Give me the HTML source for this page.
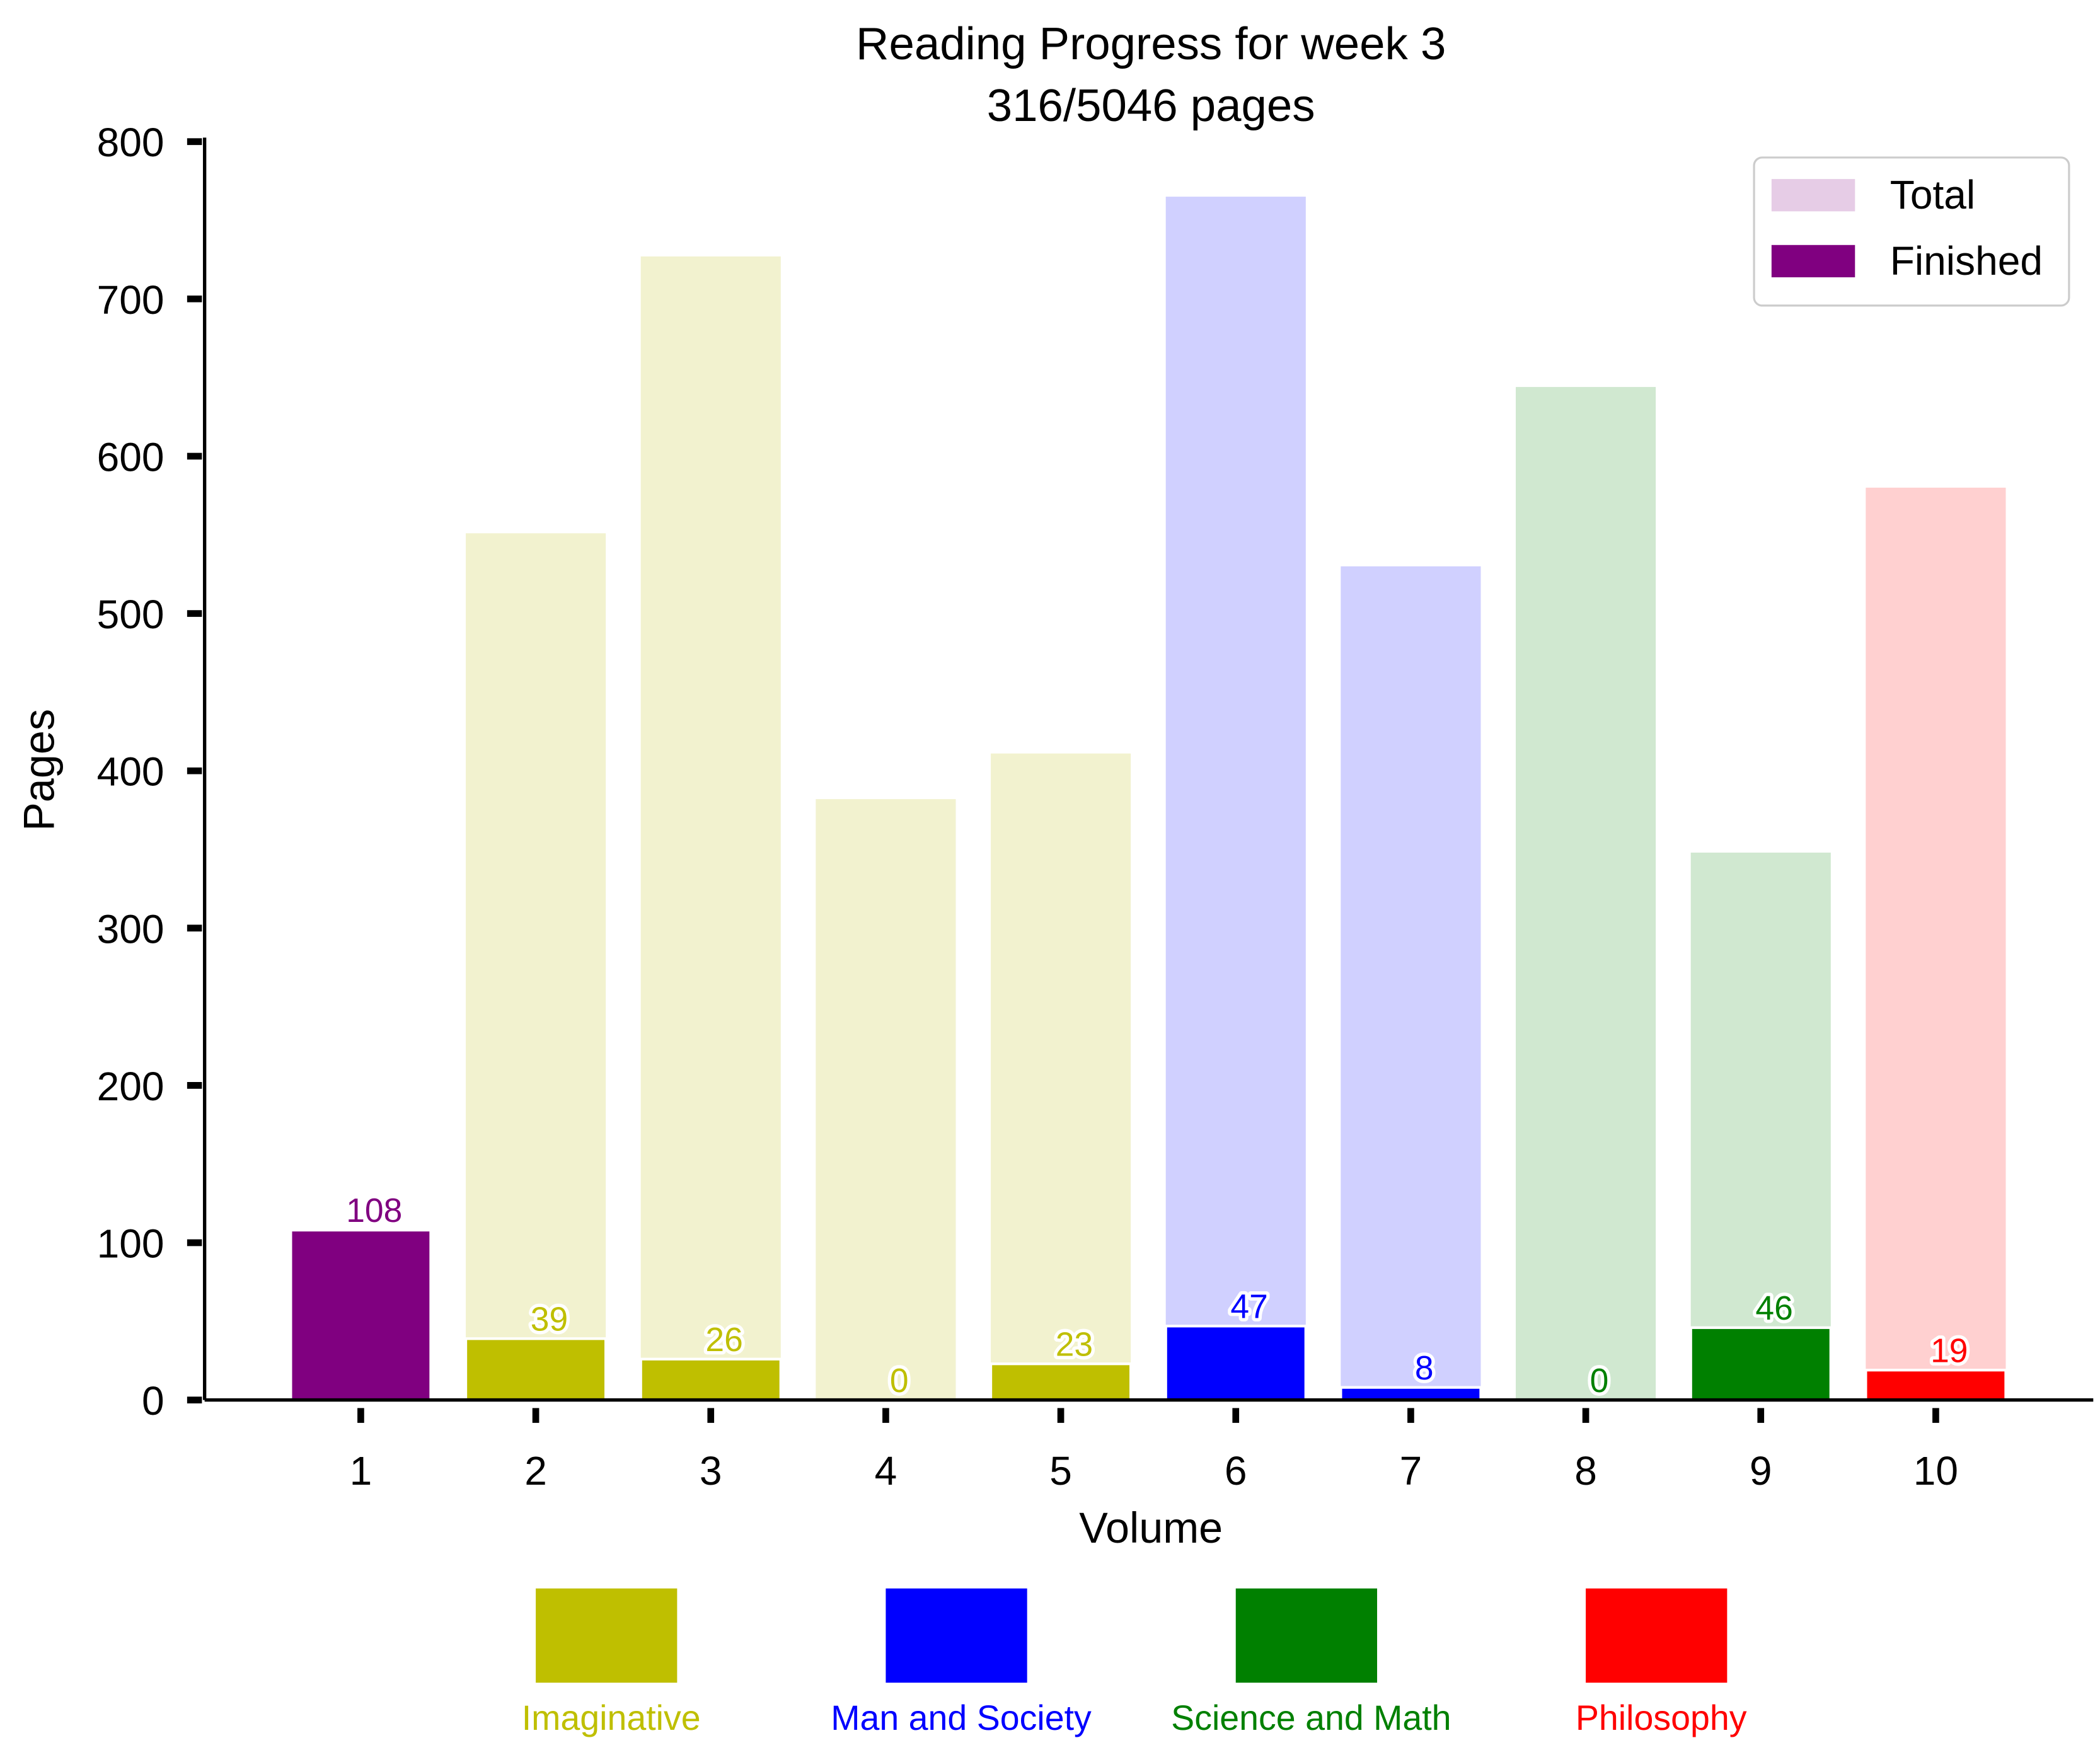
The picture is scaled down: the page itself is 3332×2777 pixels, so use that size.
<!DOCTYPE html>
<html><head><meta charset="utf-8"><style>
html,body{margin:0;padding:0;background:#fff}
svg{display:block}
text{font-family:"Liberation Sans","DejaVu Sans",sans-serif}
</style></head><body>
<svg id="chart" width="3332" height="2777" viewBox="0 0 1560 1300" preserveAspectRatio="none" xmlns="http://www.w3.org/2000/svg">
<text x="855" y="44" font-size="34" text-anchor="middle">Reading Progress for week 3</text>
<text x="855" y="90" font-size="34" text-anchor="middle">316/5046 pages</text>
<g id="bars"></g>
<g id="axes"></g>
<g>
<rect x="1303" y="117" width="234" height="110" rx="6" fill="#fff" stroke="#ccc" stroke-width="1.5"/>
<rect x="1316" y="133" width="62" height="24" fill="#e6cce6"/>
<text x="1404" y="155" font-size="30">Total</text>
<rect x="1316" y="182" width="62" height="24" fill="#800080"/>
<text x="1404" y="204" font-size="30">Finished</text>
</g>
<g id="catlegend"></g>
</svg>
<script>
const volumes=["1","2","3","4","5","6","7","8","9","10"];
const totalPages=[108,551,727,382,411,765,530,644,348,580];
const finishedPages=[108,39,26,0,23,47,8,0,46,19];
const genres=["Imaginative","Imaginative","Imaginative","Imaginative","Imaginative","Man and Society","Man and Society","Science and Math","Science and Math","Philosophy"];
const yTicks=[0,100,200,300,400,500,600,700,800];
const genreNames=["Imaginative","Man and Society","Science and Math","Philosophy"];
const genreColor={"Imaginative":"#bfbf00","Man and Society":"#0000ff","Science and Math":"#008000","Philosophy":"#ff0000"};
const genreLight={"Imaginative":"#f2f2cf","Man and Society":"#d0d0ff","Science and Math":"#d0e8d0","Philosophy":"#ffd0d0"};
const NS="http://www.w3.org/2000/svg";
const x0=152,x1=1555,y0=1040,pxPer=1.1685;
function yS(v){return y0-v*pxPer;}
function xS(i){return 268+i*130;}
const bw=104;
function mk(tag,attrs,parent){const e=document.createElementNS(NS,tag);for(const k in attrs)e.setAttribute(k,attrs[k]);parent.appendChild(e);return e;}
const bars=document.getElementById('bars');
volumes.forEach((v,i)=>{
  const g=genres[i];
  const lightCol=i===0?"#e6cce6":genreLight[g];
  const darkCol=i===0?"#800080":genreColor[g];
  const t=mk('rect',{x:xS(i)-bw/2,y:yS(totalPages[i]),width:bw,height:totalPages[i]*pxPer,fill:lightCol},bars);
  
  
  const f=mk('rect',{x:xS(i)-bw/2,y:yS(finishedPages[i]),width:bw,height:Math.max(finishedPages[i]*pxPer,0),fill:darkCol,stroke:'#fff','stroke-width':2},bars);
  
  
  const lab=mk('text',{x:xS(i)+10,y:yS(finishedPages[i])-6,'font-size':25,'text-anchor':'middle',fill:darkCol,stroke:'#fff','stroke-width':5,'paint-order':'stroke','stroke-linejoin':'round'},bars);
  lab.textContent=String(finishedPages[i]);
  
  
});
const axes=document.getElementById('axes');
const ya=mk('line',{x1:x0,y1:yS(800)-3,x2:x0,y2:y0,stroke:'#000','stroke-width':2.5},axes);


const xa=mk('line',{x1:x0,y1:y0,x2:x1,y2:y0,stroke:'#000','stroke-width':2.5},axes);


yTicks.forEach(t=>{
  const tk=mk('line',{x1:x0-13,y1:yS(t),x2:x0-2,y2:yS(t),stroke:'#000','stroke-width':5},axes);
  
  
  const tl=mk('text',{x:x0-30,y:yS(t)+11,'font-size':30,'text-anchor':'end'},axes);
  tl.textContent=String(t);
  
  
});
volumes.forEach((v,i)=>{
  const tk=mk('line',{x1:xS(i),y1:y0+6,x2:xS(i),y2:y0+17,stroke:'#000','stroke-width':5},axes);
  
  
  const tl=mk('text',{x:xS(i),y:1103,'font-size':30,'text-anchor':'middle'},axes);
  tl.textContent=v;
  
  
});
const xt=mk('text',{x:855,y:1146,'font-size':32,'text-anchor':'middle'},axes);
xt.textContent='Volume';


const yt=mk('text',{x:0,y:0,'font-size':32,'text-anchor':'middle',transform:'translate(40 572) rotate(-90)'},axes);
yt.textContent='Pages';


const cl=document.getElementById('catlegend');
genreNames.forEach((gname,j)=>{
  const cx=450+j*260;
  const sw=mk('rect',{x:cx-52,y:1180,width:105,height:70,fill:genreColor[gname]},cl);
  
  
  const tl=mk('text',{x:cx+4,y:1285,'font-size':26,'text-anchor':'middle',fill:genreColor[gname]},cl);
  tl.textContent=gname;
  
  
});
</script>
</body></html>
